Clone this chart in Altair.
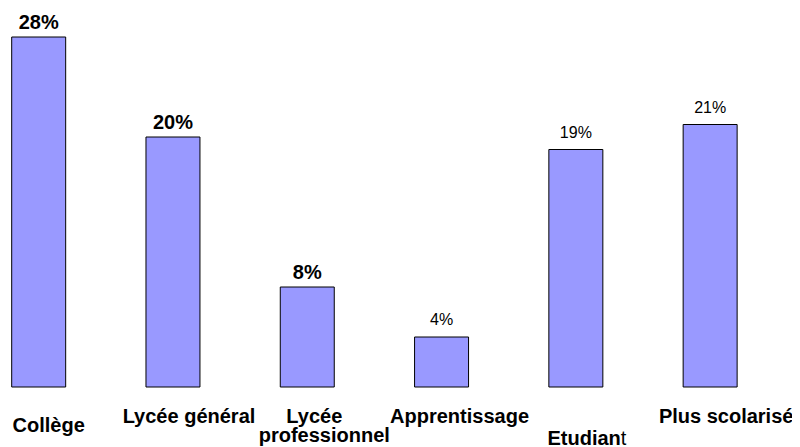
import altair as alt
import pandas as pd

categories = ["Collège", "Lycée général", "Lycée professionnel",
              "Apprentissage", "Etudiant", "Plus scolarisé"]
values = [28, 20, 8, 4, 19, 21]
value_labels = ["28%", "20%", "8%", "4%", "19%", "21%"]
bold_value_cats = ["Collège", "Lycée général", "Lycée professionnel"]

df = pd.DataFrame({"cat": categories, "val": values, "lbl": value_labels})

FONT = "Liberation Sans"

xenc = alt.X("cat:N", sort=categories, axis=None,
             scale=alt.Scale(paddingInner=0.598, paddingOuter=0.218, align=0.063))
yscale = alt.Scale(domain=[-4.8, 30.32], nice=False, zero=False)
yenc = alt.Y("val:Q", axis=None, scale=yscale)

base = alt.Chart(df)

bars = base.mark_bar(color="#9999FF", stroke="#000000", strokeWidth=1).encode(x=xenc, y=yenc)

is_bold = alt.FieldOneOfPredicate(field="cat", oneOf=bold_value_cats)

vals_bold = base.transform_filter(is_bold).mark_text(
    baseline="alphabetic", dy=-8, fontSize=20, fontWeight="bold", font=FONT, color="#000000"
).encode(x=xenc, y=yenc, text="lbl:N")

vals_norm = base.transform_filter(~is_bold).mark_text(
    baseline="alphabetic", dy=-12, fontSize=16, fontWeight="normal", font=FONT, color="#000000"
).encode(x=xenc, y=yenc, text="lbl:N")

# category labels (text layout nudges)
label_layout = [
    ("Collège", "Collège", "center", 10, 45, "bold"),
    ("Lycée général", "Lycée général", "center", 16, 36, "bold"),
    ("Lycée professionnel", "Lycée", "center", 7, 36, "bold"),
    ("Lycée professionnel", "professionnel", "center", 17, 55, "bold"),
    ("Apprentissage", "Apprentissage", "center", 18, 36, "bold"),
    ("Etudiant", "Etudian", "right", 45, 58, "bold"),
    ("Etudiant", "t", "left", 45, 58, "normal"),
    ("Plus scolarisé", "Plus scolarisé", "center", 16, 36, "bold"),
]

zero_y = alt.Y("z:Q", axis=None, scale=yscale)
label_layers = []
for cat, txt, align, dx, dy, weight in label_layout:
    label_layers.append(
        base.transform_filter(alt.datum.cat == cat)
        .transform_calculate(z="0")
        .mark_text(text=txt, align=align, baseline="alphabetic", dx=dx, dy=dy,
                   fontSize=20, fontWeight=weight, font=FONT, color="#000000")
        .encode(x=xenc, y=zero_y)
    )

chart = alt.layer(bars, vals_bold, vals_norm, *label_layers).properties(
    width=784, height=439,
    autosize=alt.AutoSizeParams(type="none"),
    padding=0,
).configure(background="#ffffff").configure_view(stroke=None, strokeWidth=0)

chart.save("out.html", embed_options={"renderer": "svg", "actions": False})
